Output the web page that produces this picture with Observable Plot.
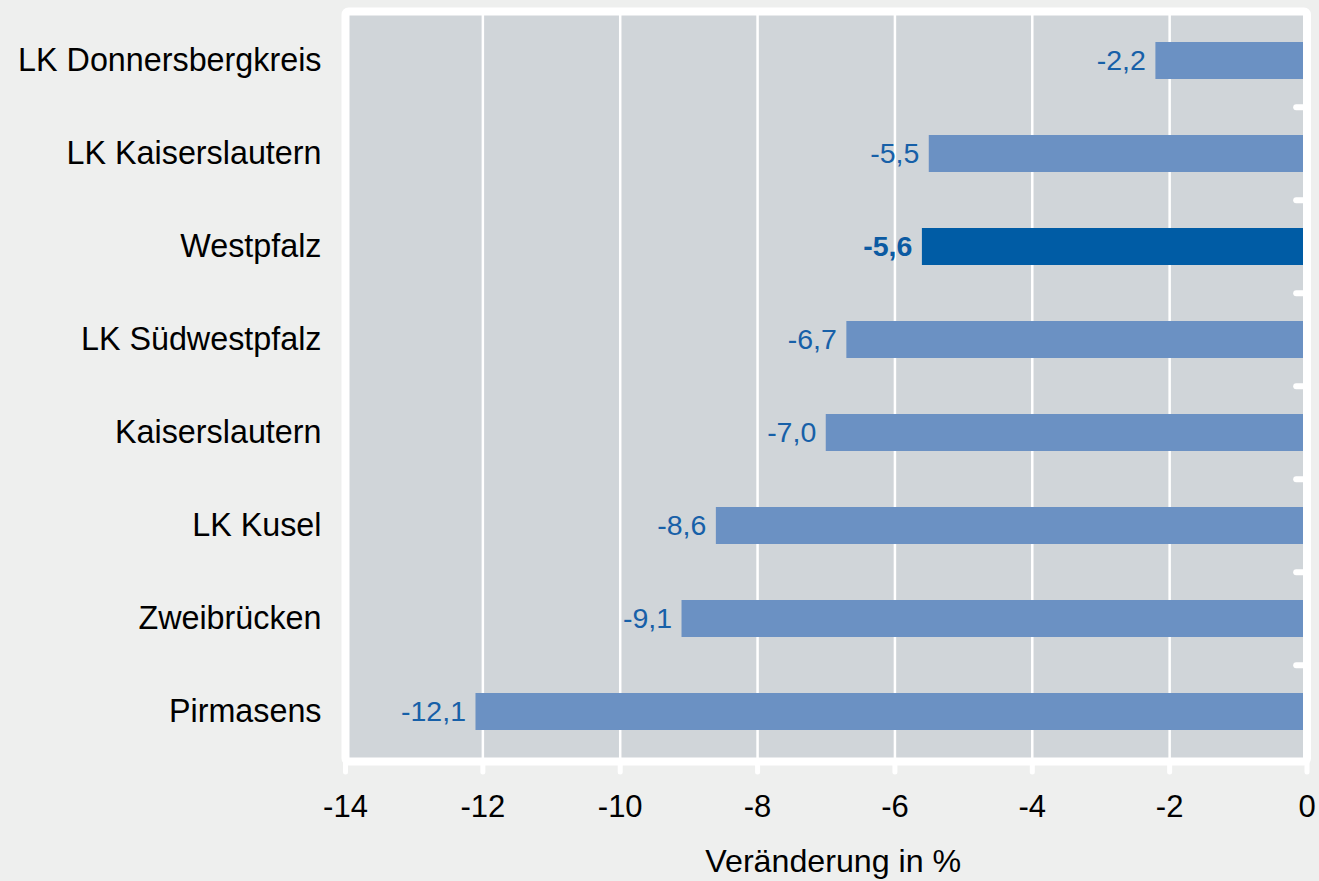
<!DOCTYPE html>
<html><head><meta charset="utf-8">
<script src="https://cdn.jsdelivr.net/npm/d3@7"></script>
<script src="https://cdn.jsdelivr.net/npm/@observablehq/plot@0.6"></script>
<style>html,body{margin:0;padding:0;background:#eeefee;overflow:hidden;}</style>
</head><body><div id="chart"></div>
<script>
const regions = ["LK Donnersbergkreis","LK Kaiserslautern","Westpfalz","LK Südwestpfalz","Kaiserslautern","LK Kusel","Zweibrücken","Pirmasens"];
const changes = [-2.2,-5.5,-5.6,-6.7,-7.0,-8.6,-9.1,-12.1];
const highlight = "Westpfalz";
const xTicks = [-14,-12,-10,-8,-6,-4,-2,0];
const xLabel = "Veränderung in %";

const data = regions.map((r,i)=>({region:r, value:changes[i]}));
const normal = data.filter(d=>d.region!==highlight);
const hi = data.filter(d=>d.region===highlight);
const fmt = v => v.toFixed(1).replace(".", ",");
const H = 881, mTop = 11, mBottom = 120;
const step = (H - mBottom - mTop)/regions.length;
const font = "'Liberation Sans', Arial, sans-serif";

const chart = Plot.plot({
  width:1319, height:H, marginLeft:345, marginRight:12.5, marginTop:mTop, marginBottom:mBottom,
  style:{background:"#eeefee", fontFamily:font, color:"#000", overflow:"visible", display:"block"},
  x:{domain:[-14,0]},
  y:{domain:regions, padding:0},
  marks:[
    Plot.frame({fill:"#d0d5d9", stroke:null}),
    Plot.ruleX(xTicks.slice(1,-1), {stroke:"white", strokeWidth:2.5}),
    Plot.barX(normal, {y:"region", x1:0, x2:"value", insetTop:28, insetBottom:28, fill:"#6b91c3"}),
    Plot.barX(hi, {y:"region", x1:0, x2:"value", insetTop:28, insetBottom:28, fill:"#005ca5"}),
    Plot.text(normal, {y:"region", x:"value", text:d=>fmt(d.value), textAnchor:"end", dx:-10, fill:"#1760a8", fontSize:28.5}),
    Plot.text(hi, {y:"region", x:"value", text:d=>fmt(d.value), textAnchor:"end", dx:-10, fill:"#0b5aa2", fontSize:28.5, fontWeight:"bold"}),
    Plot.ruleY(regions.slice(1), {y:d=>d, x1:-0.15, x2:0, dy:-step/2, stroke:"white", strokeWidth:6, strokeLinecap:"round"}),
    Plot.frame({stroke:"white", strokeWidth:8, rx:3}),
    Plot.axisX({ticks:xTicks, tickSize:11, stroke:"white", strokeWidth:5, strokeLinecap:"round", tickPadding:22, tickFormat:d=>String(d), fontSize:31, fill:"#000", label:null}),
    Plot.axisY({tickSize:0, tickPadding:24, fontSize:32.3, fill:"#000", label:null}),
    Plot.text([xLabel], {frameAnchor:"bottom", dx:7, dy:100, fontSize:32.2, fill:"#000", lineAnchor:"middle"})
  ]
});
document.getElementById("chart").appendChild(chart);
</script>
</body></html>
